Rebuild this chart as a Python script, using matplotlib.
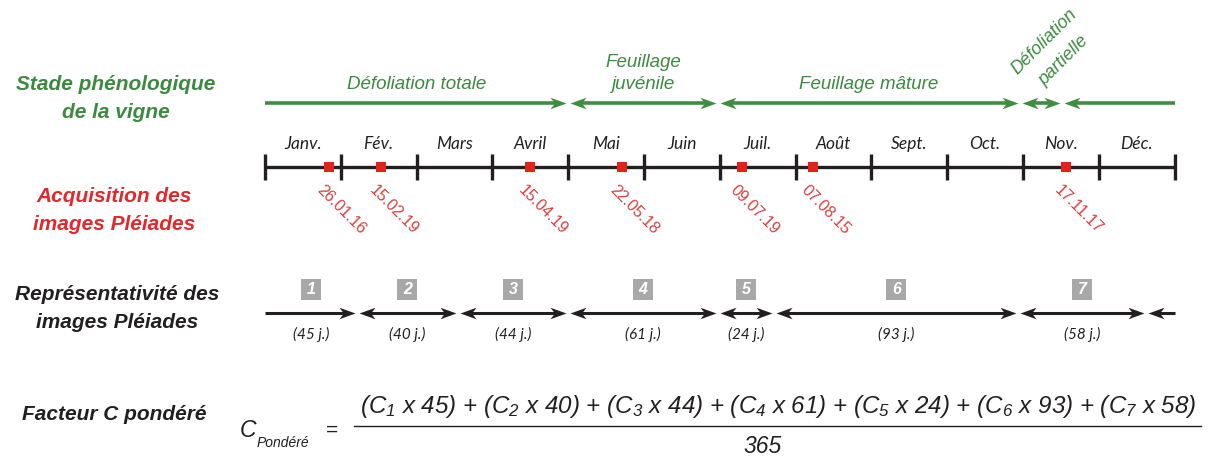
import matplotlib
matplotlib.use("Agg")
import matplotlib.pyplot as plt
from matplotlib.patches import Rectangle
from matplotlib.path import Path

# ---------------- data ----------------
month_names = ['Janv.', 'Fév.', 'Mars', 'Avril', 'Mai', 'Juin',
               'Juil.', 'Août', 'Sept.', 'Oct.', 'Nov.', 'Déc.']
month_days = [31, 28, 31, 30, 31, 30, 31, 31, 30, 31, 30, 31]
acq_dates = ['26.01.16', '15.02.19', '15.04.19', '22.05.18',
             '09.07.19', '07.08.15', '17.11.17']
stage_names = ['Défoliation totale', 'Feuillage\njuvénile', 'Feuillage mâture',
               'Défoliation\npartielle', '']
stage_bounds = [0, 4.0, 5.98, 9.96, 10.52, 12]          # in months
period_bounds = [0, 1.21, 2.55, 4.0, 5.98, 6.72, 9.94, 11.63, 12]  # in months
period_ids = [1, 2, 3, 4, 5, 6, 7]
period_days = [45, 40, 44, 61, 24, 93, 58]
total_days = 365

# ---------------- style ----------------
GREEN_T = '#3b8a3f'
GREEN_A = '#3e8e41'
RED_T = '#e1282d'
RED_D = '#d8403d'
RED_M = '#e2231a'
BLACK = '#231f20'
GREY = '#a8a8a8'
SANS = ['Liberation Sans', 'DejaVu Sans']
MONTHF = ['Lato', 'DejaVu Sans']

plt.rcParams['mathtext.fontset'] = 'custom'
plt.rcParams['mathtext.it'] = 'Liberation Sans:italic'
plt.rcParams['mathtext.rm'] = 'Liberation Sans:italic'

W, H = 1208, 457
fig = plt.figure(figsize=(W / 100, H / 100), dpi=100)
ax = fig.add_axes([0, 0, 1, 1])
X0, X1 = 265.0, 1174.5         # pixel positions of Jan 1 and Dec 31
PPM = (X1 - X0) / 12.0
ax.set_xlim(-X0 / PPM, 12 + (W - X1) / PPM)
ax.set_ylim(H, 0)
ax.axis('off')


def px(p):
    """pixel offset -> month units (layout helper)"""
    return p / PPM


def fx(p):
    """absolute pixel column -> month units (layout helper)"""
    return (p - X0) / PPM


# concave arrow heads as custom markers, tip at the marker origin
HW = 0.36
HEAD_R = Path([(0, 0), (-1, HW), (-0.72, 0), (-1, -HW), (0, 0)],
              [Path.MOVETO, Path.LINETO, Path.LINETO, Path.LINETO, Path.CLOSEPOLY])
HEAD_L = Path([(0, 0), (1, HW), (0.72, 0), (1, -HW), (0, 0)],
              [Path.MOVETO, Path.LINETO, Path.LINETO, Path.LINETO, Path.CLOSEPOLY])
HEAD_PX = 16.0                 # head length in pixels
HEAD_MS = 2 * HEAD_PX * 0.72   # marker size in points (path normalised to 0.5)


def seg_arrows(bounds, y, color, lw, gap):
    n = len(bounds) - 1
    back = px(HEAD_PX * 0.65)
    for i in range(n):
        a, b = bounds[i], bounds[i + 1]
        left_head = i > 0
        right_head = i < n - 1
        xa = a + gap if left_head else a
        xb = b - gap if right_head else b
        la = xa + back if left_head else xa
        lb = xb - back if right_head else xb
        ax.plot([la, lb], [y, y], color=color, lw=lw, solid_capstyle='butt')
        if left_head:
            ax.plot([xa], [y], marker=HEAD_L, ms=HEAD_MS, color=color, mew=0,
                    linestyle='none')
        if right_head:
            ax.plot([xb], [y], marker=HEAD_R, ms=HEAD_MS, color=color, mew=0,
                    linestyle='none')


# ---------------- left labels ----------------
lab = dict(ha='center', va='center', family=SANS, weight='bold', style='italic',
           fontsize=15, linespacing=1.6)
ax.text(fx(116), 98.5, 'Stade phénologique\nde la vigne', color=GREEN_T, **lab)
ax.text(fx(114), 210, 'Acquisition des\nimages Pléiades', color=RED_T, **lab)
ax.text(fx(117), 308.5, 'Représentativité des\nimages Pléiades', color=BLACK, **lab)
ax.text(fx(114.5), 414, 'Facteur C pondéré', color=BLACK, **lab)

# ---------------- phenological stages ----------------
Y_STAGE = 103
seg_arrows(stage_bounds, Y_STAGE, GREEN_A, 2.6, px(2))
st = dict(family=SANS, style='italic', fontsize=13.5, color=GREEN_T,
          ha='center', linespacing=1.4)
for i, name in enumerate(stage_names):
    if not name:
        continue
    c = (stage_bounds[i] + stage_bounds[i + 1]) / 2
    if i == 3:
        ax.text(fx(1054), 51, name, rotation=45, va='center',
                rotation_mode='anchor', fontsize=13, color=GREEN_T,
                family=SANS, style='italic', ha='center', linespacing=1.7)
    else:
        ax.text(c, 93, name, va='bottom', **st)

# ---------------- month timeline ----------------
Y_TL = 167
ax.plot([0, 12], [Y_TL, Y_TL], color=BLACK, lw=2.4, solid_capstyle='butt')
ax.vlines(range(13), Y_TL - 13, Y_TL + 13, color=BLACK, lw=2.4)
for i, m in enumerate(month_names):
    ax.text(i + 0.5, 144, m, ha='center', va='center', family=MONTHF,
            style='italic', fontsize=12.5, color=BLACK)

# acquisition dates
for d in acq_dates:
    day, mon = int(d[:2]), int(d[3:5])
    xm = (mon - 1) + day / month_days[mon - 1]
    ax.plot([xm], [Y_TL], marker='s', ms=6.5, color=RED_M, mew=0,
            linestyle='none')
    ax.text(xm - px(4), 183, d, rotation=-45, rotation_mode='anchor',
            ha='left', va='top', family=SANS, fontsize=11.5, color=RED_D)

# ---------------- representativity ----------------
Y_REP = 313
seg_arrows(period_bounds, Y_REP, BLACK, 2.2, px(2))
for i, (pid, nd) in enumerate(zip(period_ids, period_days)):
    c = (period_bounds[i] + period_bounds[i + 1]) / 2
    ax.add_patch(Rectangle((c - px(10), 279), px(20), 21, color=GREY, lw=0))
    ax.text(c, 290, str(pid), ha='center', va='center', family=SANS,
            weight='bold', style='italic', fontsize=11.5, color='white')
    ax.text(c, 334, f'({nd} j.)', ha='center', va='center', family=MONTHF,
            style='italic', fontsize=11, color=BLACK)

# ---------------- weighted C formula ----------------
ax.text(fx(240), 437, 'C', ha='left', va='baseline', family=SANS,
        style='italic', fontsize=16.5, color=BLACK)
ax.text(fx(257), 447, 'Pondéré', ha='left', va='baseline', family=SANS,
        style='italic', fontsize=10, color=BLACK)
ax.text(fx(332), 430, '=', ha='center', va='center', family=SANS,
        fontsize=15, color=BLACK)
ax.plot([fx(354), fx(1201)], [425.5, 425.5], color=BLACK, lw=1.0)
terms = [f'($C_{{{pid}}}$ x {nd})' for pid, nd in zip(period_ids, period_days)]
numer = ' + '.join(terms)
ax.text(fx(778), 413, numer, ha='center', va='baseline', family=SANS,
        style='italic', fontsize=17.4, color=BLACK)
ax.text(fx(763), 453, str(total_days), ha='center', va='baseline', family=SANS,
        style='italic', fontsize=16.5, color=BLACK)

fig.savefig('out.png', dpi=100, facecolor='white')
